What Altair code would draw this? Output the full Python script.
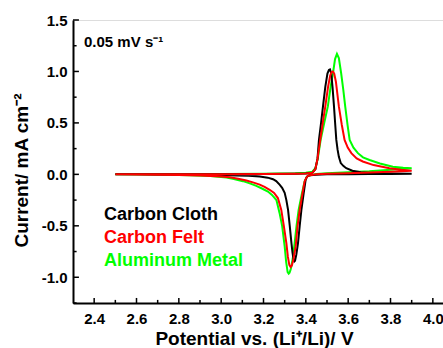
import altair as alt
import pandas as pd

# ---- data ----
series_names = ["Aluminum Metal", "Carbon Cloth", "Carbon Felt"]  # draw order
series_colors = ["#00FF00", "#000000", "#FF0000"]

# Carbon Cloth (black)
cloth_v = [2.5, 2.8, 3.0, 3.2, 3.35, 3.40, 3.43, 3.445, 3.455, 3.462, 3.472, 3.481, 3.492, 3.502, 3.509, 3.514,
           3.52, 3.526, 3.533, 3.539, 3.544, 3.55, 3.556, 3.565, 3.578, 3.591, 3.62, 3.66, 3.72, 3.8, 3.9,
           3.8, 3.7, 3.6, 3.5, 3.45, 3.42, 3.41, 3.405, 3.399, 3.39, 3.379, 3.371, 3.363, 3.355, 3.349, 3.346,
           3.342, 3.337, 3.332, 3.324, 3.316, 3.308, 3.3, 3.288, 3.276, 3.26, 3.245, 3.22, 3.182, 3.13, 3.072,
           3.0, 2.9, 2.8, 2.7, 2.6, 2.5]
cloth_i = [0.0, 0.0, 0.002, 0.004, 0.006, 0.008, 0.015, 0.05, 0.15, 0.335, 0.5, 0.66, 0.85, 0.98, 1.015, 1.02,
           0.98, 0.85, 0.66, 0.48, 0.335, 0.24, 0.17, 0.11, 0.08, 0.06, 0.035, 0.02, 0.012, 0.008, 0.005,
           0.004, 0.003, 0.002, 0.0, -0.003, -0.008, -0.015, -0.025, -0.053, -0.18, -0.345, -0.5, -0.668, -0.78,
           -0.84, -0.846, -0.83, -0.76, -0.668, -0.5, -0.345, -0.25, -0.18, -0.13, -0.1, -0.066, -0.047, -0.032,
           -0.021, -0.014, -0.01, -0.007, -0.004, -0.002, -0.001, 0.0, 0.0]

# Carbon Felt (red)
felt_v = [2.5, 2.8, 3.0, 3.2, 3.35, 3.40, 3.43, 3.445, 3.455, 3.468, 3.48, 3.492, 3.505, 3.515, 3.522, 3.528,
          3.534, 3.542, 3.556, 3.57, 3.583, 3.598, 3.615, 3.64, 3.669, 3.72, 3.795, 3.85, 3.9,
          3.8, 3.7, 3.6, 3.5, 3.45, 3.42, 3.41, 3.403, 3.394, 3.383, 3.371, 3.361, 3.352, 3.342, 3.334, 3.328,
          3.322, 3.315, 3.308, 3.296, 3.284, 3.268, 3.25, 3.229, 3.205, 3.182, 3.15, 3.119, 3.08, 3.041, 3.0,
          2.9, 2.8, 2.7, 2.6, 2.5]
felt_i = [0.0, 0.0, 0.002, 0.004, 0.006, 0.008, 0.015, 0.05, 0.15, 0.335, 0.5, 0.66, 0.85, 0.96, 0.995, 1.0,
          0.98, 0.9, 0.66, 0.48, 0.335, 0.26, 0.206, 0.155, 0.125, 0.09, 0.06, 0.045, 0.035,
          0.025, 0.018, 0.012, 0.006, 0.0, -0.008, -0.015, -0.03, -0.07, -0.2, -0.345, -0.5, -0.7, -0.82, -0.885,
          -0.9, -0.88, -0.8, -0.668, -0.5, -0.345, -0.23, -0.18, -0.15, -0.122, -0.1, -0.078, -0.06, -0.042,
          -0.028, -0.02, -0.01, -0.005, -0.003, -0.001, 0.0]

# Aluminum Metal (green)
alu_v = [2.5, 2.8, 3.0, 3.2, 3.35, 3.40, 3.43, 3.445, 3.456, 3.47, 3.487, 3.504, 3.517, 3.528, 3.538, 3.547,
         3.556, 3.567, 3.577, 3.586, 3.597, 3.607, 3.625, 3.646, 3.67, 3.701, 3.75, 3.811, 3.86, 3.9,
         3.8, 3.7, 3.6, 3.5, 3.45, 3.42, 3.41, 3.403, 3.394, 3.38, 3.366, 3.356, 3.347, 3.338, 3.329, 3.323,
         3.319, 3.314, 3.307, 3.3, 3.288, 3.276, 3.261, 3.24, 3.221, 3.195, 3.166, 3.135, 3.103, 3.06, 3.025,
         2.95, 2.85, 2.75, 2.65, 2.5]
alu_i = [0.0, 0.0, 0.003, 0.006, 0.01, 0.015, 0.025, 0.06, 0.15, 0.335, 0.5, 0.66, 0.85, 0.98, 1.12, 1.17,
         1.13, 0.98, 0.82, 0.66, 0.48, 0.335, 0.26, 0.206, 0.165, 0.14, 0.105, 0.075, 0.065, 0.06,
         0.045, 0.03, 0.02, 0.01, 0.003, -0.008, -0.015, -0.03, -0.07, -0.2, -0.345, -0.5, -0.668, -0.82, -0.92,
         -0.955, -0.965, -0.95, -0.85, -0.7, -0.5, -0.377, -0.25, -0.2, -0.167, -0.14, -0.112, -0.088, -0.066,
         -0.045, -0.03, -0.017, -0.008, -0.004, -0.002, 0.0]

# axis ticks / labels
x_domain = [2.3, 4.048]
y_domain = [-1.25, 1.5]
x_major = [2.4, 2.6, 2.8, 3.0, 3.2, 3.4, 3.6, 3.8, 4.0]
x_minor = [2.5, 2.7, 2.9, 3.1, 3.3, 3.5, 3.7, 3.9]
y_major = [-1.0, -0.5, 0.0, 0.5, 1.0, 1.5]
y_minor = [-1.25, -0.75, -0.25, 0.25, 0.75, 1.25]
# inward tick lengths, in axis units (x ticks in mA cm-2, y ticks in V)
x_tick_len = {"major": 0.049, "minor": 0.03}
y_tick_len = {"major": 0.028, "minor": 0.017}

# in-plot labels
label_text = ["0.05 mV s\u207b\u00b9", "Carbon Cloth", "Carbon Felt", "Aluminum Metal"]
label_v = [2.352, 2.446, 2.446, 2.446]
label_i = [1.289, -0.393, -0.617, -0.840]
label_color = ["#000000", "#000000", "#FF0000", "#00FF00"]
label_size = [15, 18, 18, 18]

# ---- tables ----
rows = []
# inward ticks, drawn first so the curves lie on top
for kind, vals in (("major", x_major), ("minor", x_minor)):
    for v in vals:
        rows.append({"series": f"xt{v}", "V": v, "I": y_domain[0], "k": 0, "col": "#000000", "w": 1.5})
        rows.append({"series": f"xt{v}", "V": v, "I": y_domain[0] + x_tick_len[kind], "k": 1,
                     "col": "#000000", "w": 1.5})
for kind, vals in (("major", y_major), ("minor", y_minor)):
    for c in vals:
        rows.append({"series": f"yt{c}", "V": x_domain[0], "I": c, "k": 0, "col": "#000000", "w": 1.5})
        rows.append({"series": f"yt{c}", "V": x_domain[0] + y_tick_len[kind], "I": c, "k": 1,
                     "col": "#000000", "w": 1.5})
for name, vs, cs in [("Aluminum Metal", alu_v, alu_i), ("Carbon Cloth", cloth_v, cloth_i),
                     ("Carbon Felt", felt_v, felt_i)]:
    col = series_colors[series_names.index(name)]
    for k, (v, c) in enumerate(zip(vs, cs)):
        rows.append({"series": name, "V": v, "I": c, "k": k, "col": col, "w": 2})
df = pd.DataFrame(rows)

lab = pd.DataFrame({"t": label_text, "V": label_v, "I": label_i, "c": label_color, "s": label_size})

FONT = "Liberation Sans"
W, H = 370, 283

xs = alt.Scale(domain=x_domain, nice=False, zero=False)
ys = alt.Scale(domain=y_domain, nice=False, zero=False)
fmt_expr = "replace(format(datum.value, '.1f'), '\u2212', '-')"

x_axis = alt.Axis(
    orient="bottom", values=x_major, labelExpr=fmt_expr, tickSize=0, grid=False,
    domainColor="black", domainWidth=2, labelFont=FONT, labelFontSize=15, labelFontWeight="bold",
    labelColor="black", labelPadding=8,
    title="Potential vs. (Li\u207a/Li)/ V", titleFont=FONT, titleFontSize=19, titleFontWeight="bold",
    titleColor="black", titleX=181, titleY=41, titleBaseline="alphabetic")
y_axis = alt.Axis(
    orient="left", values=y_major, labelExpr=fmt_expr, tickSize=0, grid=False,
    domainColor="black", domainWidth=2, labelFont=FONT, labelFontSize=15, labelFontWeight="bold",
    labelColor="black", labelPadding=6,
    title="Current/ mA cm\u207b\u00b2", titleFont=FONT, titleFontSize=19, titleFontWeight="bold",
    titleColor="black", titleX=-42, titleY=150, titleAngle=-90, titleBaseline="bottom")

lines = alt.Chart(df).mark_line().encode(
    x=alt.X("V:Q", scale=xs, axis=x_axis),
    y=alt.Y("I:Q", scale=ys, axis=y_axis),
    color=alt.Color("col:N", scale=None),
    strokeWidth=alt.StrokeWidth("w:Q", scale=None),
    detail="series:N",
    order="k:Q",
)

texts = alt.Chart(lab).mark_text(align="left", baseline="middle", font=FONT, fontWeight="bold").encode(
    x=alt.X("V:Q", scale=xs, axis=x_axis),
    y=alt.Y("I:Q", scale=ys, axis=y_axis),
    text="t:N",
    color=alt.Color("c:N", scale=None),
    size=alt.Size("s:Q", scale=None),
)

chart = alt.layer(lines, texts).properties(
    width=W, height=H,
    autosize=alt.AutoSizeParams(type="none"),
    padding={"left": 73, "top": 20, "right": 0, "bottom": 45},
).configure_view(stroke="black", strokeWidth=2).configure(background="white")

chart.save("out.html", embed_options={"renderer": "svg", "actions": False})
